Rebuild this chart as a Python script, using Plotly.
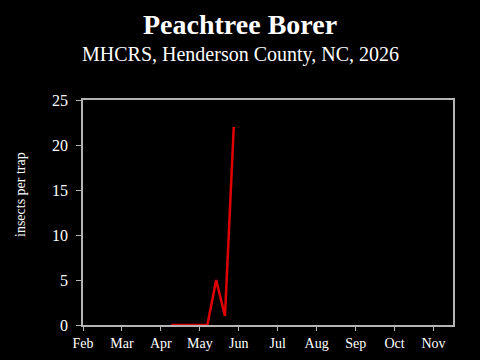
import calendar
import plotly.graph_objects as go

# Data
dates = ["2026-04-09", "2026-04-16", "2026-04-23", "2026-04-30",
         "2026-05-07", "2026-05-14", "2026-05-21", "2026-05-28"]
counts = [0, 0, 0, 0, 0, 5, 1, 22]
month_labels = ["Feb", "Mar", "Apr", "May", "Jun", "Jul", "Aug", "Sep", "Oct", "Nov"]
month_numbers = [2, 3, 4, 5, 6, 7, 8, 9, 10, 11]
y_ticks = [0, 5, 10, 15, 20, 25]


def month_pos(d):
    y, m, day = (int(p) for p in d.split("-"))
    return m + (day - 1) / calendar.monthrange(y, m)[1]


xs = [month_pos(d) for d in dates]

FONT = "Liberation Serif"
AX = "#b4b4b4"
L, R, T, B = 83, 27, 100, 35
PW, PH = 480 - L - R, 360 - T - B

fig = go.Figure()
fig.add_trace(go.Scatter(x=xs, y=counts, mode="lines",
                         line=dict(color="#e00000", width=2.5),
                         hoverinfo="skip", showlegend=False))

fig.update_layout(
    width=480, height=360,
    paper_bgcolor="black", plot_bgcolor="black",
    margin=dict(l=L, r=R, t=T, b=B, autoexpand=False),
    font=dict(family=FONT, color="white", size=14),
    showlegend=False,
)
fig.update_xaxes(
    range=[2, 11.5], tickvals=month_numbers, ticktext=month_labels,
    showgrid=False, zeroline=False, showline=True, linecolor=AX, linewidth=1.5,
    mirror=True, ticks="outside", ticklen=4, tickcolor=AX, tickwidth=1,
    ticklabelstandoff=0, automargin=False,
    tickfont=dict(size=14, color="white", family=FONT),
)
fig.update_yaxes(
    range=[0, 25], tickvals=y_ticks,
    showgrid=False, zeroline=False, showline=True, linecolor=AX, linewidth=1.5,
    mirror=True, ticks="outside", ticklen=5, tickcolor=AX, tickwidth=1,
    ticklabelstandoff=5, automargin=False,
    tickfont=dict(size=16, color="white", family=FONT),
)

cx = (240 - L) / PW


def py(pix):
    return 1 + (T - pix) / PH


fig.add_annotation(text="<b>Peachtree Borer</b>", xref="paper", yref="paper",
                   x=cx, y=py(24.5), xanchor="center", yanchor="middle",
                   showarrow=False, font=dict(size=28, color="white", family=FONT))
fig.add_annotation(text="MHCRS, Henderson County, NC, 2026", xref="paper", yref="paper",
                   x=cx, y=py(54), xanchor="center", yanchor="middle",
                   showarrow=False, font=dict(size=20, color="white", family=FONT))
fig.add_annotation(text="insects per trap", xref="paper", yref="paper",
                   x=(20 - L) / PW, y=py(195), xanchor="center", yanchor="middle",
                   textangle=-90, showarrow=False,
                   font=dict(size=14, color="white", family=FONT))

fig.write_html("out.html")
